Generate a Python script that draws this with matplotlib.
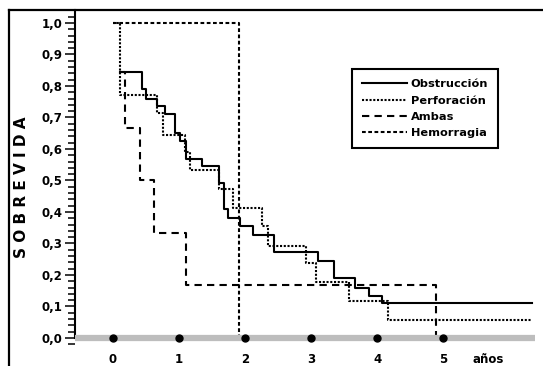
import matplotlib
matplotlib.use("Agg")
import matplotlib.pyplot as plt
from matplotlib.lines import Line2D
from matplotlib.ticker import MultipleLocator, FuncFormatter

# survival curves (time in years, survival fraction)
obstruccion_t = [0.10, 0.44, 0.50, 0.67, 0.78, 0.94, 1.02, 1.10, 1.34, 1.61, 1.68,
                 1.74, 1.92, 2.12, 2.44, 3.10, 3.34, 3.67, 3.88, 4.08, 6.35]
obstruccion_s = [0.843, 0.790, 0.760, 0.737, 0.711, 0.652, 0.626, 0.569, 0.546, 0.491, 0.409,
                 0.380, 0.356, 0.327, 0.274, 0.245, 0.190, 0.160, 0.133, 0.110, 0.110]

perforacion_t = [0.0, 0.10, 0.66, 0.76, 1.09, 1.17, 1.60, 1.82, 2.25, 2.35, 2.92,
                 3.08, 3.58, 4.17, 6.35]
perforacion_s = [1.0, 0.771, 0.713, 0.644, 0.591, 0.532, 0.472, 0.413, 0.356, 0.293, 0.239,
                 0.179, 0.116, 0.056, 0.056]

ambas_t = [0.10, 0.18, 0.41, 0.62, 1.11, 4.89]
ambas_s = [0.843, 0.667, 0.500, 0.333, 0.167, 0.0]

hemorragia_t = [0.0, 1.91]
hemorragia_s = [1.0, 0.0]

year_ticks = [0, 1, 2, 3, 4, 5]
labels = ["Obstrucción", "Perforación", "Ambas", "Hemorragia"]

W, H = 543, 366
fig = plt.figure(figsize=(W / 100, H / 100), dpi=100)
ax = fig.add_axes([75 / W, (H - 345) / H, (535 - 75) / W, (345 - 10) / H])
ax.set_xlim(-0.576, 6.39)
ax.set_ylim(-0.0222, 1.041)

lw = 1.5
l1, = ax.step(obstruccion_t, obstruccion_s, where="post", color="black", lw=lw)
l2, = ax.step(perforacion_t, perforacion_s, where="post", color="black", lw=lw,
              linestyle=(0, (1, 0.8)))
l3, = ax.step(ambas_t, ambas_s, where="post", color="black", lw=lw,
              linestyle=(0, (3.5, 2.5)))
l4, = ax.step(hemorragia_t, hemorragia_s, where="post", color="black", lw=lw,
              linestyle=(0, (1.8, 1.2)))

# grey time axis with dots on whole years
ax.axhline(0, color="#bdbdbd", lw=4.5, zorder=3)
ax.plot(year_ticks, [0] * len(year_ticks), "o", color="black", ms=5, zorder=4, clip_on=False)

for s in ["top", "right", "bottom"]:
    ax.spines[s].set_visible(False)
ax.spines["left"].set_linewidth(1.5)
ax.spines["left"].set_bounds(0, 1.041)

ax.yaxis.set_major_locator(MultipleLocator(0.1))
ax.yaxis.set_minor_locator(MultipleLocator(0.02))
ax.yaxis.set_major_formatter(FuncFormatter(lambda v, p: f"{v:.1f}".replace(".", ",")))
ax.tick_params(axis="y", which="major", direction="out", length=7, width=1.1, pad=2.2,
               labelsize=8.5)
ax.tick_params(axis="y", which="minor", direction="out", length=5, width=1.1)
for t in ax.get_yticklabels():
    t.set_fontweight("bold")

ax.set_xticks(year_ticks)
ax.tick_params(axis="x", length=0, pad=5.8, labelsize=8.5)
for t in ax.get_xticklabels():
    t.set_fontweight("bold")
ax.text(5.68, -(353 - 345) / 335, "años", transform=ax.get_xaxis_transform(),
        ha="center", va="top", fontsize=8.5, fontweight="bold")

fig.text(22 / W, 1 - 187 / H, "S O B R E V I D A", rotation=90, ha="center", va="center",
         fontsize=11, fontweight="bold")

leg = ax.legend([l1, l2, l3, l4], labels, loc="upper left",
                bbox_to_anchor=(352 / W, 1 - 69 / H), bbox_transform=fig.transFigure,
                borderaxespad=0, fancybox=False, framealpha=1, edgecolor="black",
                handlelength=3.95, handletextpad=0.3, labelspacing=0.55, borderpad=0.9,
                prop={"weight": "bold", "size": 8.2})
leg.get_frame().set_linewidth(1.5)

# outer frame (top and left edges only)
fig.add_artist(Line2D([9 / W, 1], [1 - 10 / H, 1 - 10 / H], transform=fig.transFigure,
                      color="black", lw=1.6))
fig.add_artist(Line2D([9 / W, 9 / W], [0, 1 - 10 / H], transform=fig.transFigure,
                      color="black", lw=1.6))

fig.savefig("out.png", dpi=100)
